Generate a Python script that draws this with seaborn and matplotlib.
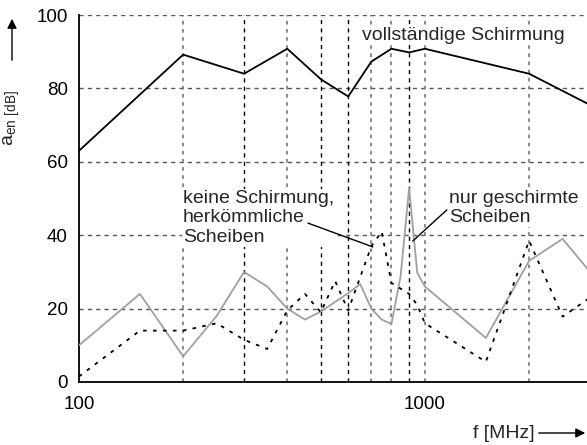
import matplotlib
matplotlib.use("Agg")
import matplotlib.pyplot as plt
import seaborn as sns
import pandas as pd

# ---- data ----
f_full = [100, 200, 300, 400, 500, 600, 700, 800, 900, 1000, 2000, 3000]
a_full = [63, 89.2, 84, 90.8, 82.5, 77.8, 87.3, 90.8, 89.8, 90.8, 84, 75.5]

f_shield = [100, 150, 200, 250, 300, 350, 400, 450, 500, 600, 650, 700, 750,
            800, 850, 900, 950, 1000, 1500, 2000, 2500, 3000]
a_shield = [10, 24, 7, 18, 30, 26, 20, 17, 19.2, 24.2, 26.7, 20, 17,
            15.8, 28.7, 52.8, 29.8, 26, 12, 33, 39, 30]

f_none = [100, 150, 200, 250, 300, 350, 400, 450, 500, 550, 600, 700, 750,
          800, 900, 950, 1000, 1500, 2000, 2500, 3000]
a_none = [1.5, 14, 14, 16, 11.5, 9, 19.5, 24, 19, 27.5, 19.5, 37, 41,
          27, 24, 21, 16, 5.5, 38.5, 17.8, 23]

grid_dark = [300, 500, 600, 900]
grid_light = [200, 400, 700, 800, 1000, 2000]
y_ticks = [0, 20, 40, 60, 80, 100]
x_ticks = [100, 1000]

sns.set_style("white")
plt.rcParams['font.family'] = ['Liberation Sans', 'DejaVu Sans']
plt.rcParams['mathtext.fontset'] = 'custom'
plt.rcParams['mathtext.rm'] = 'Liberation Sans'

fig = plt.figure(figsize=(5.87, 4.45), dpi=100)
W, H = 587, 445
ax = fig.add_axes([79 / W, (H - 382) / H, (590 - 79) / W, (382 - 15) / H])

# grid lines
for y in y_ticks[1:]:
    ax.axhline(y, color='#555555', lw=1.0, ls=(0, (3, 3)), zorder=1)
for x in grid_light:
    ax.axvline(x, color='#808080', lw=1.3, ls=(0, (2, 2.5)), zorder=1)
for x in grid_dark:
    ax.axvline(x, color='black', lw=1.0, ls=(0, (3, 3)), zorder=1)

df_full = pd.DataFrame({'f': f_full, 'a': a_full})
df_shield = pd.DataFrame({'f': f_shield, 'a': a_shield})
df_none = pd.DataFrame({'f': f_none, 'a': a_none})

sns.lineplot(data=df_full, x='f', y='a', ax=ax, color='black', lw=1.3, zorder=3)
sns.lineplot(data=df_shield, x='f', y='a', ax=ax, color='#a0a0a0', lw=1.3, zorder=3)
sns.lineplot(data=df_none, x='f', y='a', ax=ax, color='black', lw=1.3,
             ls=(0, (2, 3.5)), zorder=3)

ax.set_xscale('log')
ax.set_xlim(100, 3000)
ax.set_ylim(0, 100)
ax.set_xticks(x_ticks)
ax.set_xticklabels([str(t) for t in x_ticks])
ax.xaxis.set_minor_locator(matplotlib.ticker.NullLocator())
ax.set_yticks(y_ticks)
ax.set_yticklabels([str(t) for t in y_ticks])
ax.tick_params(axis='both', length=0, labelsize=13.5, colors='black')
ax.tick_params(axis='x', pad=10)
ax.tick_params(axis='y', pad=8)
ax.set_xlabel('')
ax.set_ylabel('')

for s in ['top', 'right']:
    ax.spines[s].set_visible(False)
ax.spines['bottom'].set_color('black')
ax.spines['bottom'].set_linewidth(1.3)
ax.spines['left'].set_color('black')
ax.spines['left'].set_linewidth(1.3)
ax.spines['left'].set_linestyle((0, (4, 1)))

bb = dict(facecolor='white', edgecolor='none', pad=0.5)
ax.text(362 / W, 1 - 35 / H, 'vollständige Schirmung', transform=fig.transFigure,
        fontsize=14, va='center', ha='left', bbox=bb, zorder=4)
ax.text(183 / W, 1 - 218 / H, 'keine Schirmung,\nherkömmliche\nScheiben',
        transform=fig.transFigure, fontsize=14, va='center', ha='left',
        linespacing=1.2, bbox=bb, zorder=4)
ax.text(449 / W, 1 - 208 / H, 'nur geschirmte\nScheiben',
        transform=fig.transFigure, fontsize=14, va='center', ha='left',
        linespacing=1.2, bbox=bb, zorder=4)

# leader lines
ax.annotate('', xy=(707, 36.8), xytext=(459, 43.3),
            arrowprops=dict(arrowstyle='-', color='black', lw=1.0,
                            shrinkA=0, shrinkB=0), zorder=5)
ax.annotate('', xy=(922, 38.4), xytext=(1157, 46.9),
            arrowprops=dict(arrowstyle='-', color='black', lw=1.0,
                            shrinkA=0, shrinkB=0), zorder=5)

# axis labels with arrows
fig.text(12 / W, 1 - 118 / H, r'$\mathregular{a_{en\ [dB]}}$', rotation=90,
         fontsize=14, ha='center', va='center')
fig.add_artist(matplotlib.patches.FancyArrowPatch(
    (12 / W, 1 - 63 / H), (12 / W, 1 - 16 / H), transform=fig.transFigure,
    arrowstyle='-|>', mutation_scale=14, color='black', lw=1.0))
fig.text(504 / W, 1 - 433 / H, 'f [MHz]', fontsize=14, ha='center', va='center')
fig.add_artist(matplotlib.patches.FancyArrowPatch(
    (536 / W, 1 - 433 / H), (588 / W, 1 - 433 / H), transform=fig.transFigure,
    arrowstyle='-|>', mutation_scale=14, color='black', lw=1.0))

fig.savefig('out.png', dpi=100)
